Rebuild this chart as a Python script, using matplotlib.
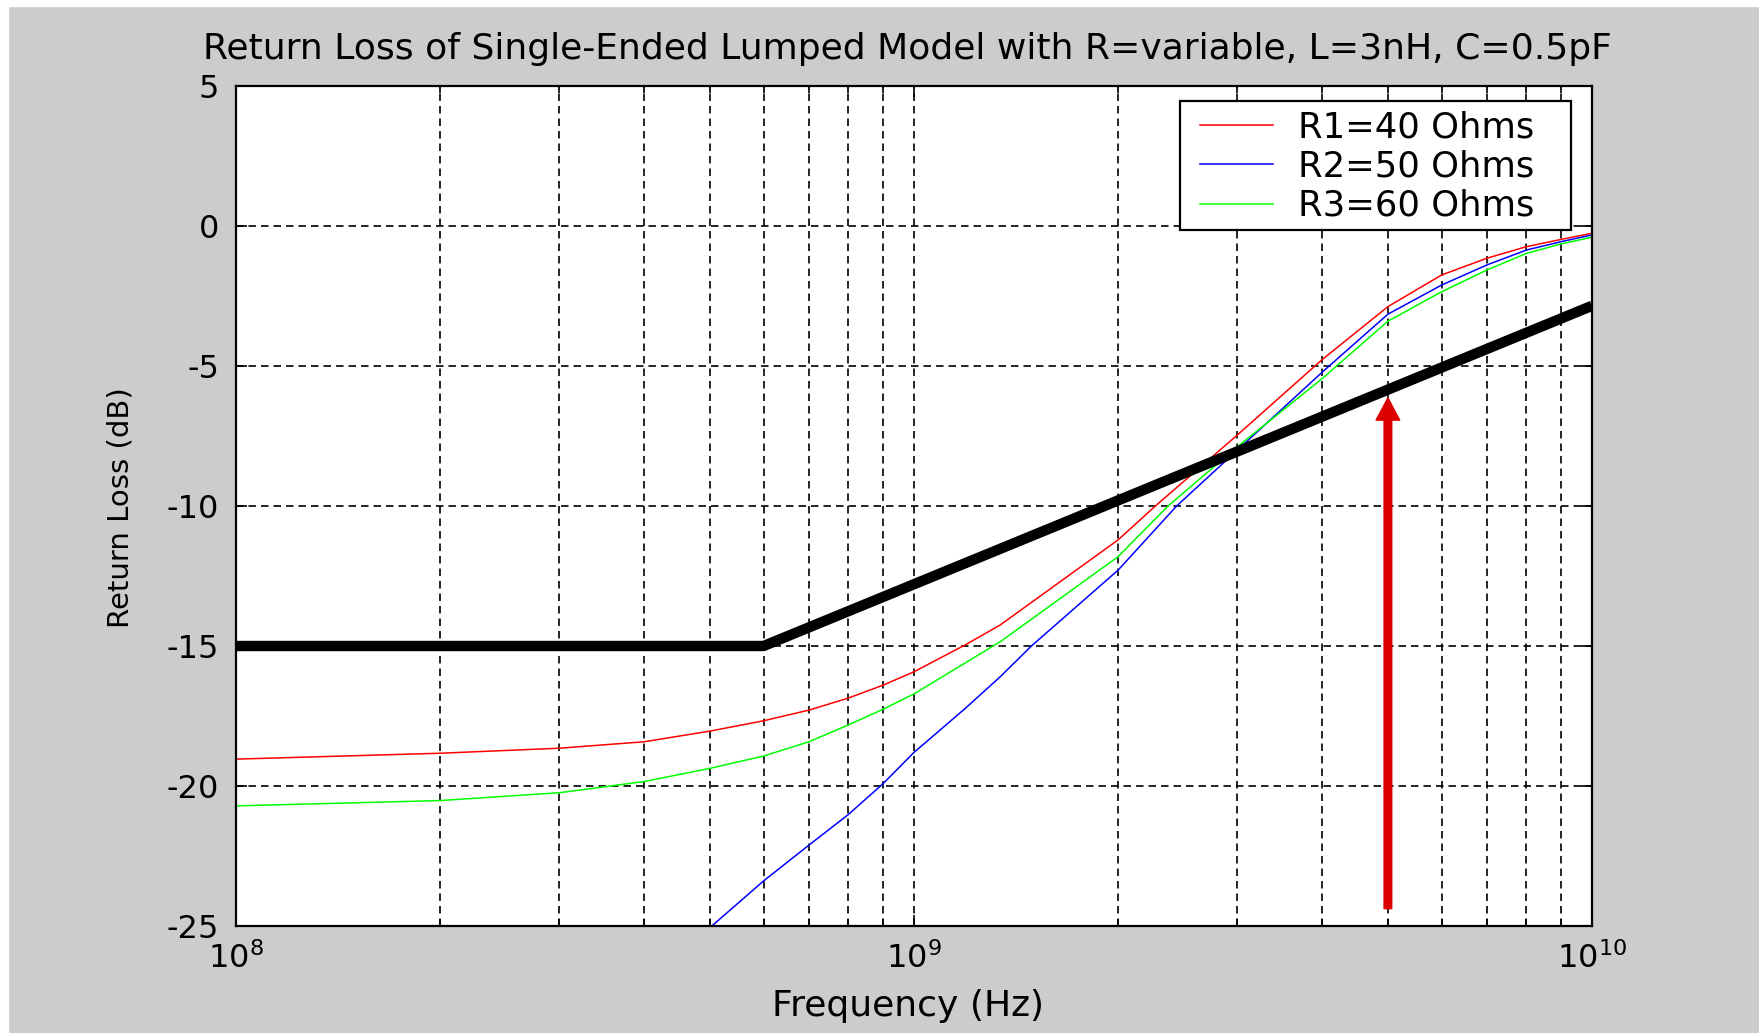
import numpy as np
import matplotlib.pyplot as plt
from matplotlib.patches import Rectangle
from matplotlib.ticker import LogLocator, NullFormatter

plt.rcParams['font.family'] = ['DejaVu Sans']
plt.rcParams['axes.unicode_minus'] = False

# return loss curves (frequency in Hz, RL in dB)
f_r1 = [1e8, 2e8, 3e8, 4e8, 5e8, 6e8, 7e8, 8e8, 9e8, 1e9, 1.19e9, 1.34e9,
        2e9, 2.27e9, 3e9, 4e9, 5e9, 6e9, 7e9, 8e9, 9e9, 1e10]
rl_r1 = [-19.04, -18.83, -18.65, -18.42, -18.04, -17.67, -17.29, -16.86, -16.40,
         -15.92, -14.96, -14.25, -11.21, -10.0, -7.46, -4.77, -2.88, -1.75,
         -1.15, -0.74, -0.48, -0.26]

f_r2 = [5e8, 6e8, 7e8, 8e8, 9e8, 1e9, 1.19e9, 1.34e9, 1.49e9, 2e9, 2.44e9,
        3e9, 4e9, 5e9, 6e9, 7e9, 8e9, 9e9, 1e10]
rl_r2 = [-25.06, -23.39, -22.11, -21.02, -19.92, -18.80, -17.23, -16.10, -15.0,
         -12.29, -10.0, -8.0, -5.22, -3.15, -2.11, -1.39, -0.86, -0.56, -0.32]

f_r3 = [1e8, 2e8, 3e8, 4e8, 5e8, 6e8, 7e8, 8e8, 9e8, 1e9, 1.34e9, 2e9,
        2.37e9, 3e9, 4e9, 5e9, 6e9, 7e9, 8e9, 9e9, 1e10]
rl_r3 = [-20.71, -20.52, -20.24, -19.84, -19.37, -18.93, -18.42, -17.82, -17.26,
         -16.71, -14.85, -11.81, -10.0, -7.88, -5.45, -3.40, -2.35, -1.57,
         -0.98, -0.64, -0.40]

labels = ['R1=40 Ohms', 'R2=50 Ohms', 'R3=60 Ohms']
colors = ['#ff0000', '#0000ff', '#00ff00']

# spec mask (thick black line)
f_mask = [1e8, 6e8, 1e10]
rl_mask = [-15, -15, -2.85]

# red arrow at 5 GHz
f_arrow = 5e9
arrow_from = -24.38
arrow_to = -6.14

fig = plt.figure(figsize=(17.59, 10.33), dpi=100, facecolor='#cccccc')
ax = fig.add_axes([236/1759, 107/1033, 1356/1759, 840/1033])

ax.semilogx(f_r1, rl_r1, color=colors[0], lw=1.1, label=labels[0])
ax.semilogx(f_r2, rl_r2, color=colors[1], lw=1.1, label=labels[1])
ax.semilogx(f_r3, rl_r3, color=colors[2], lw=1.1, label=labels[2])
ax.semilogx(f_mask, rl_mask, color='black', lw=7.5, solid_capstyle='butt', zorder=4)

ax.annotate('', xy=(f_arrow, arrow_to), xytext=(f_arrow, arrow_from),
            arrowprops=dict(facecolor='#dd0000', edgecolor='#dd0000',
                            width=5.5, headwidth=17, headlength=16, shrink=0),
            zorder=5)

ax.set_xlim(1e8, 1e10)
ax.set_ylim(-25, 5)
ax.set_yticks([-25, -20, -15, -10, -5, 0, 5])
ax.xaxis.set_minor_locator(LogLocator(base=10, subs=np.arange(2, 10)))
ax.xaxis.set_minor_formatter(NullFormatter())

grid_style = dict(color='black', lw=1.2, linestyle=(0, (4.5, 3)))
ax.grid(True, which='major', axis='both', **grid_style)
ax.grid(True, which='minor', axis='x', **grid_style)
ax.set_axisbelow(True)

ax.tick_params(which='both', direction='in', top=True, right=True,
               width=1.2, labelsize=23, pad=12)
ax.tick_params(which='major', length=8)
ax.tick_params(which='minor', length=5)
for s in ax.spines.values():
    s.set_linewidth(1.6)

ax.set_xlabel('Frequency (Hz)', fontsize=26)
ax.set_ylabel('Return Loss (dB)', fontsize=21)
ax.xaxis.label.set_va('center')
ax.yaxis.label.set_va('center')
ax.xaxis.set_label_coords(0.4956, -0.0952)
ax.yaxis.set_label_coords(-0.0855, 0.4976)

fig.text(907/1759, 1 - 49/1033,
         'Return Loss of Single-Ended Lumped Model with R=variable, L=3nH, C=0.5pF',
         ha='center', va='center', fontsize=26)

# legend box drawn by hand (wider side padding than matplotlib gives)
ax.add_patch(Rectangle((0.696, 0.8286), 0.9842 - 0.696, 0.982 - 0.8286,
                       transform=ax.transAxes, facecolor='white',
                       edgecolor='black', lw=1.6, zorder=6))
leg = ax.legend(loc='upper left', bbox_to_anchor=(0.711, 0.971), borderaxespad=0,
                borderpad=0, frameon=False, fontsize=25.5,
                handlelength=2.05, handletextpad=0.72, labelspacing=0.15)
leg.set_zorder(7)

# thin white strips at the top and left edges of the screenshot
fig.add_artist(Rectangle((0, 1 - 6/1033), 1, 6/1033, transform=fig.transFigure,
                         color='white', zorder=0))
fig.add_artist(Rectangle((0, 0), 8/1759, 1, transform=fig.transFigure,
                         color='white', zorder=0))

fig.savefig('out.png', dpi=100, facecolor=fig.get_facecolor())
